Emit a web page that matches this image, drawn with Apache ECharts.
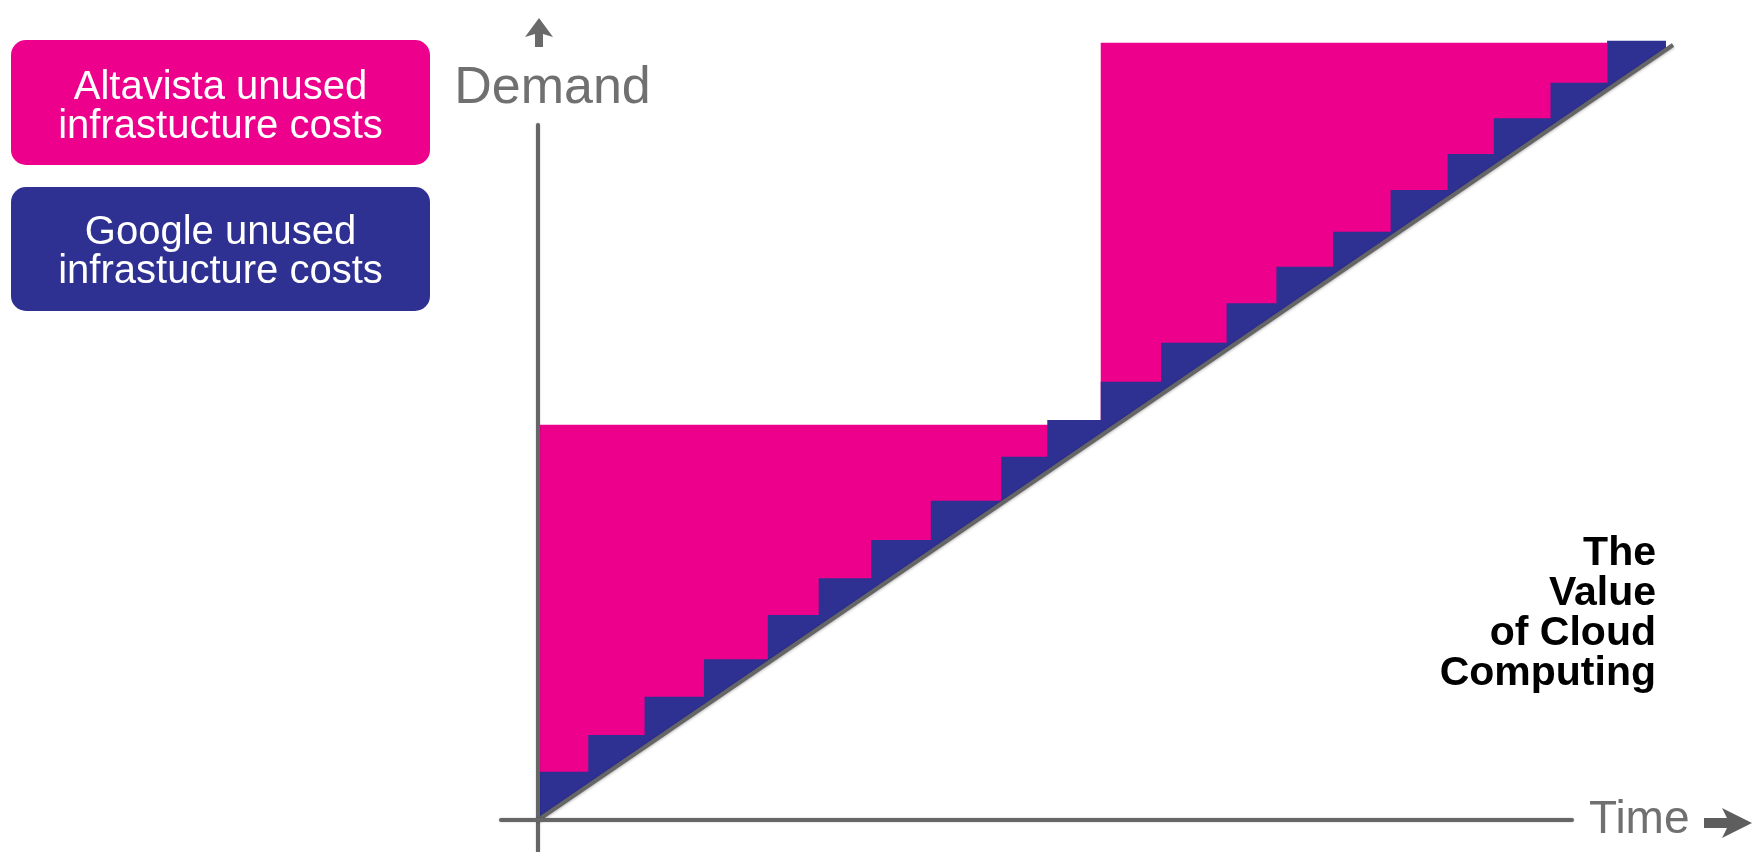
<!DOCTYPE html>
<html>
<head>
<meta charset="utf-8">
<script src="https://cdn.jsdelivr.net/npm/echarts@6/dist/echarts.min.js"></script>
<style>
  html, body { margin: 0; padding: 0; background: #ffffff; }
  #chart { width: 1760px; height: 852px; }
</style>
</head>
<body>
<div id="chart"></div>
<script>
// ---- data (time and demand in relative units, demand line reaches 100 at time 100) ----
const demandTime  = [0, 100];
const demandValue = [0, 100];

// Google: capacity added in small steps (start time of each step, capacity level)
const googleStepStart = [0, 4.43, 9.39, 14.62, 20.25, 24.73, 29.35, 34.61, 40.81, 44.87,
                         49.58, 54.89, 60.67, 65.06, 70.04, 75.12, 80.14, 84.21, 89.21, 94.19];
const googleCapacity  = [6.23, 10.97, 15.91, 20.74, 26.45, 31.19, 36.13, 41.2, 46.88, 51.61,
                         56.55, 61.59, 66.67, 71.39, 75.91, 81.29, 85.94, 90.54, 95.14, 100.55];
const googleEnd = 99.38;

// Altavista: capacity added in two big blocks
const altavistaStepStart = [0, 49.58];
const altavistaCapacity  = [51.0, 100.3];
const altavistaEnd = 94.19;

// labels
const legendLabels = ['Altavista unused\ninfrastucture costs', 'Google unused\ninfrastucture costs'];
const titleLines = ['The', 'Value', 'of Cloud', 'Computing'];
const axisNames = { x: 'Time', y: 'Demand' };

// ---- build series data ----
const googleData = googleStepStart.map((t, i) => [t, googleCapacity[i]]);
googleData.push([googleEnd, googleCapacity[googleCapacity.length - 1]]);

const altavistaData = altavistaStepStart.map((t, i) => [t, altavistaCapacity[i]]);
altavistaData.push([altavistaEnd, altavistaCapacity[altavistaCapacity.length - 1]]);

const demandData = demandTime.map((t, i) => [t, demandValue[i]]);

const PINK = '#EC008C';
const BLUE = '#2E3192';
const GRAY = '#666666';
const FONT = '"Liberation Sans", Arial, Helvetica, sans-serif';

const chart = echarts.init(document.getElementById('chart'), null, { renderer: 'canvas' });

const hiddenAxisParts = {
  axisLine: { show: false },
  axisTick: { show: false },
  axisLabel: { show: false },
  splitLine: { show: false }
};

const option = {
  backgroundColor: '#ffffff',
  animation: false,
  title: {
    text: titleLines.join('\n'),
    left: 1651,
    top: 529,
    textAlign: 'right',
    textStyle: {
      fontFamily: FONT,
      fontSize: 41,
      fontWeight: 'bold',
      color: '#000000',
      lineHeight: 40
    }
  },
  grid: [
    // grid 0: carries the visible axes (Time / Demand)
    { left: 501, right: 188, top: 125, bottom: 0 },
    // grid 1: same scale, larger box, carries the data
    { left: 501, right: 60, top: 0, bottom: 0 }
  ],
  xAxis: [
    {
      type: 'value',
      gridIndex: 0,
      min: -3.26,
      max: 91.10,
      z: 10,
      name: axisNames.x,
      nameLocation: 'end',
      nameGap: 17,
      nameTextStyle: {
        fontFamily: FONT,
        fontSize: 46,
        color: '#707070',
        padding: [0, 0, 14, 0]
      },
      axisLine: {
        onZero: true,
        lineStyle: { color: GRAY, width: 4, shadowBlur: 2, shadowColor: 'rgba(0,0,0,0.25)' }
      },
      axisTick: { show: false },
      axisLabel: { show: false },
      splitLine: { show: false }
    },
    Object.assign({ type: 'value', gridIndex: 1, min: -3.26, max: 102.377 }, hiddenAxisParts)
  ],
  yAxis: [
    {
      type: 'value',
      gridIndex: 0,
      min: -4.13,
      max: 89.68,
      z: 10,
      name: axisNames.y,
      nameLocation: 'end',
      nameGap: 10,
      nameTextStyle: {
        fontFamily: FONT,
        fontSize: 52,
        color: '#707070',
        padding: [0, 0, 0, 29]
      },
      axisLine: {
        onZero: true,
        lineStyle: { color: GRAY, width: 4, shadowBlur: 2, shadowColor: 'rgba(0,0,0,0.25)' }
      },
      axisTick: { show: false },
      axisLabel: { show: false },
      splitLine: { show: false }
    },
    Object.assign({ type: 'value', gridIndex: 1, min: -4.13, max: 105.81 }, hiddenAxisParts)
  ],
  series: [
    {
      name: 'Altavista unused infrastucture costs',
      type: 'line',
      xAxisIndex: 1,
      yAxisIndex: 1,
      step: 'end',
      data: altavistaData,
      showSymbol: false,
      symbol: 'none',
      lineStyle: { width: 0, color: PINK },
      areaStyle: { color: PINK, opacity: 1, origin: 'auto' },
      itemStyle: { color: PINK },
      silent: true
    },
    {
      name: 'Google unused infrastucture costs',
      type: 'line',
      xAxisIndex: 1,
      yAxisIndex: 1,
      step: 'end',
      data: googleData,
      showSymbol: false,
      symbol: 'none',
      lineStyle: { width: 0, color: BLUE },
      areaStyle: { color: BLUE, opacity: 1, origin: 'auto' },
      itemStyle: { color: BLUE },
      silent: true
    },
    {
      name: 'Demand',
      type: 'line',
      xAxisIndex: 1,
      yAxisIndex: 1,
      data: demandData,
      showSymbol: false,
      symbol: 'none',
      lineStyle: { width: 4, color: GRAY, shadowBlur: 3, shadowColor: 'rgba(0,0,0,0.3)', shadowOffsetY: 1 },
      areaStyle: { color: '#ffffff', opacity: 1, origin: 'auto' },
      itemStyle: { color: GRAY },
      silent: true
    }
  ],
  graphic: [
    {
      type: 'group',
      left: 11,
      top: 40,
      children: [
        { type: 'rect', shape: { x: 0, y: 0, width: 419, height: 125, r: 15 }, style: { fill: PINK } },
        { type: 'text', x: 209.5, y: 67,
          style: { text: legendLabels[0], fill: '#ffffff', font: '40px ' + FONT,
                   align: 'center', verticalAlign: 'middle', lineHeight: 39 } }
      ]
    },
    {
      type: 'group',
      left: 11,
      top: 187,
      children: [
        { type: 'rect', shape: { x: 0, y: 0, width: 419, height: 124, r: 15 }, style: { fill: BLUE } },
        { type: 'text', x: 209.5, y: 65,
          style: { text: legendLabels[1], fill: '#ffffff', font: '40px ' + FONT,
                   align: 'center', verticalAlign: 'middle', lineHeight: 39 } }
      ]
    },
    {
      // arrow above the Demand label
      type: 'polygon',
      shape: { points: [[539, 18], [525, 37], [535, 34], [535, 47], [543, 47], [543, 34], [553, 37]] },
      style: { fill: '#6a6a6a' }
    },
    {
      // arrow after the Time label
      type: 'polygon',
      shape: { points: [[1704, 818], [1727, 818], [1722, 808], [1752, 823], [1722, 838], [1727, 828], [1704, 828]] },
      style: { fill: '#5e5e5e' }
    }
  ]
};

chart.setOption(option);
</script>
</body>
</html>
